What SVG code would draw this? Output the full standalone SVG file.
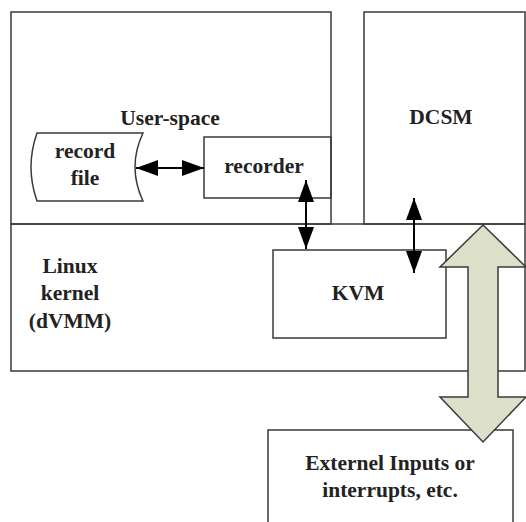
<svg xmlns="http://www.w3.org/2000/svg" width="526" height="522" viewBox="0 0 526 522">
<style>
.box{fill:none;stroke:#3a3a3a;stroke-width:1.5}
.lbl{font-family:"Liberation Serif","Times New Roman",serif;font-weight:bold;font-size:21.5px;fill:#222;text-anchor:middle}
.con{stroke:#000;stroke-width:2;fill:none}
.big{fill:#dce0c8;stroke:#3a3a3a;stroke-width:1.5}
</style>
<defs>
<marker id="ah" viewBox="0 0 22 16" refX="22" refY="8" markerWidth="22" markerHeight="16" markerUnits="userSpaceOnUse" orient="auto-start-reverse">
<path d="M0,0 L22,8 L0,16 Z" fill="#000"/>
</marker>
</defs>
<rect width="526" height="522" fill="#fff"/>
<g id="userspace">
<rect class="box" x="11" y="12" width="320" height="212"/>
<text class="lbl" x="170" y="125">User-space</text>
</g>
<g id="dcsm">
<rect class="box" x="364" y="12" width="161" height="212"/>
<text class="lbl" x="441" y="124">DCSM</text>
</g>
<g id="kernel">
<rect class="box" x="11" y="224" width="514" height="147"/>
<text class="lbl" x="70" y="273">Linux</text>
<text class="lbl" x="70" y="300">kernel</text>
<text class="lbl" x="70" y="328">(dVMM)</text>
</g>
<g id="recordfile">
<path class="box" d="M37,133 L143,133 Q127,167 143,201 L37,201 Q25,167 37,133 Z"/>
<text class="lbl" x="85" y="158">record</text>
<text class="lbl" x="85" y="185">file</text>
</g>
<g id="recorder">
<rect class="box" x="204" y="137" width="127" height="61"/>
<text class="lbl" x="264" y="173">recorder</text>
</g>
<g id="kvm">
<rect class="box" x="273" y="250" width="173" height="88"/>
<text class="lbl" x="358" y="300">KVM</text>
</g>
<g id="external">
<path class="box" d="M268,522 L268,430 L513,430 L513,522"/>
<text class="lbl" x="390" y="470">Externel Inputs or</text>
<text class="lbl" x="390" y="497">interrupts, etc.</text>
</g>
<g id="connectors">
<line class="con" x1="136" y1="168" x2="204" y2="168" marker-start="url(#ah)" marker-end="url(#ah)"/>
<line class="con" x1="306" y1="180" x2="306" y2="249" marker-start="url(#ah)" marker-end="url(#ah)"/>
<line class="con" x1="414" y1="198" x2="414" y2="273" marker-start="url(#ah)" marker-end="url(#ah)"/>
<polygon class="big" points="483,225 440,267 468,267 468,397 440,397 483,442 526,397 498,397 498,267 526,267"/>
</g>
</svg>
